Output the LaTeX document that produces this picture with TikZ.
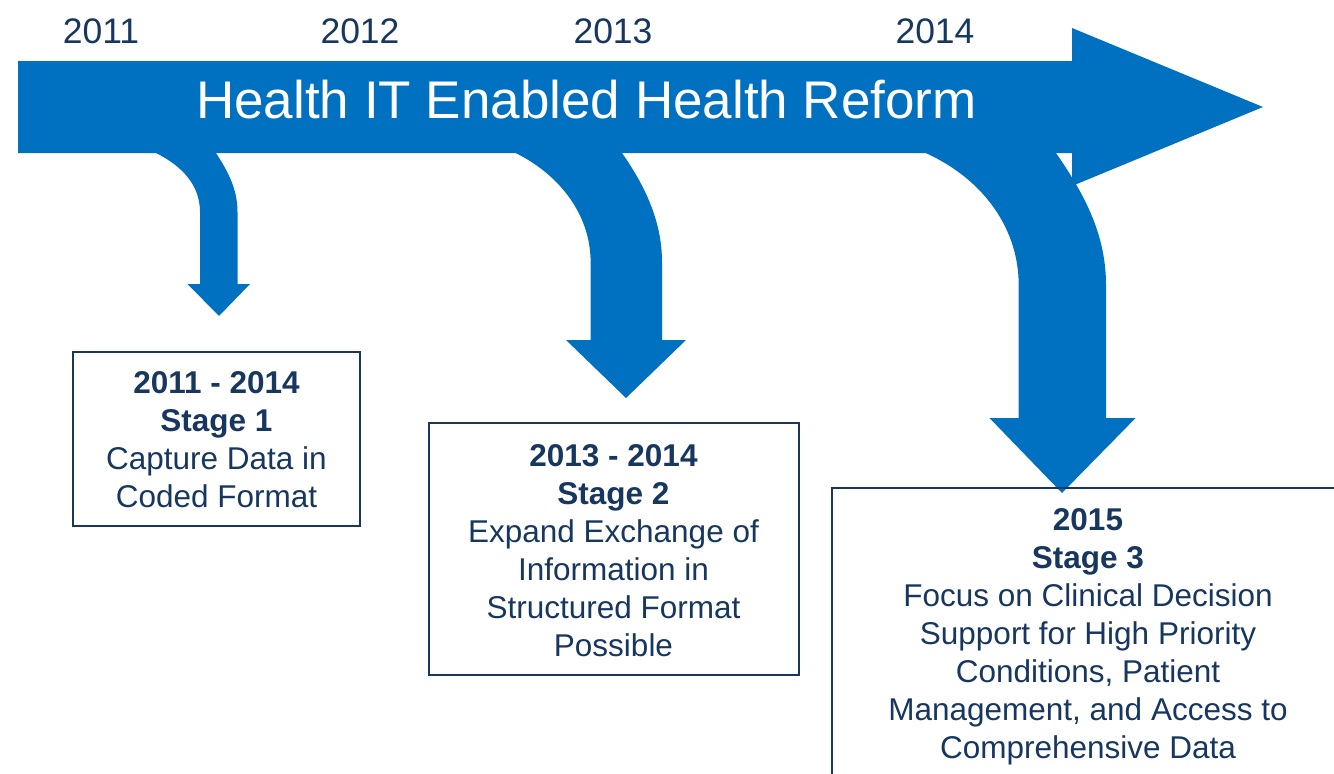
\documentclass[tikz,border=0pt]{standalone}
\usepackage{fontspec}
\setmainfont{Liberation Sans}
\definecolor{arrowblue}{HTML}{0070C0}
\definecolor{navy}{HTML}{17375E}
\begin{document}
\begin{tikzpicture}[x=1pt,y=-1pt,
  flow/.style={fill=arrowblue, draw=none},
  yearlabel/.style={anchor=base, text=navy, inner sep=0pt,
    font=\fontsize{35.5}{43}\selectfont},
  titlelabel/.style={anchor=base, text=white, inner sep=0pt,
    font=\fontsize{53}{64}\selectfont},
  stagebox/.style={draw=navy, line width=1.8pt, inner sep=0pt},
  % multi-line text is placed by the baseline of its last line
  stagetext/.style={anchor=base, align=center, text=navy, inner sep=0pt,
    font=\fontsize{31.5}{38}\selectfont}
]
\useasboundingbox (0,0) rectangle (1334,774);
\clip (0,0) rectangle (1334,774);

% curved down arrows branching off the timeline
\fill[flow] (156,146) -- (156,153)
  .. controls (182,166) and (200,185) .. (200,212)
  -- (200,284) -- (187.5,284) -- (219,316) -- (250,284) -- (237.5,284)
  -- (237.5,212) .. controls (237.5,190) and (229,173) .. (216,153)
  -- (216,146) -- cycle;
\fill[flow] (515.6,146) -- (515.6,153)
  .. controls (560,175) and (590.6,215) .. (590.6,262)
  -- (590.6,340) -- (566,340) -- (626,398) -- (686,340) -- (662,340)
  -- (662,262) .. controls (662,225) and (648,190) .. (622,153)
  -- (622,146) -- cycle;
\fill[flow] (925.7,146) -- (925.7,153)
  .. controls (985,180) and (1018.7,230) .. (1018.7,285)
  -- (1018.7,418) -- (989.5,418) -- (1062,493) -- (1135.6,418) -- (1106,418)
  -- (1106,285) .. controls (1106,235) and (1085,195) .. (1056,153)
  -- (1056,146) -- cycle;

% main timeline arrow
\fill[flow] (18,61) -- (1072,61) -- (1072,28) -- (1263,107)
  -- (1072,186) -- (1072,153) -- (18,153) -- cycle;
\node[titlelabel] (title) at (586.5,118) {Health IT Enabled Health Reform};

% years
\node[yearlabel] (y2011) at (101,43) {2011};
\node[yearlabel] (y2012) at (360,43) {2012};
\node[yearlabel] (y2013) at (613,43) {2013};
\node[yearlabel] (y2014) at (935,43) {2014};

% stage boxes
\node[stagebox, minimum width=287pt, minimum height=174pt] (box1) at (216.5,439) {};
\node[stagetext] (txt1) at (216.5,507)
  {\textbf{2011 - 2014}\\\textbf{Stage 1}\\Capture Data in\\Coded Format};

\node[stagebox, minimum width=370pt, minimum height=252pt] (box2) at (614,549) {};
\node[stagetext] (txt2) at (613.5,656)
  {\textbf{2013 - 2014}\\\textbf{Stage 2}\\Expand Exchange of\\Information in\\Structured Format\\Possible};

\node[stagebox, minimum width=512pt, minimum height=310pt] (box3) at (1088,643) {};
\node[stagetext] (txt3) at (1088,758)
  {\textbf{2015}\\\textbf{Stage 3}\\Focus on Clinical Decision\\Support for High Priority\\Conditions, Patient\\Management, and Access to\\Comprehensive Data};
\end{tikzpicture}
\end{document}
